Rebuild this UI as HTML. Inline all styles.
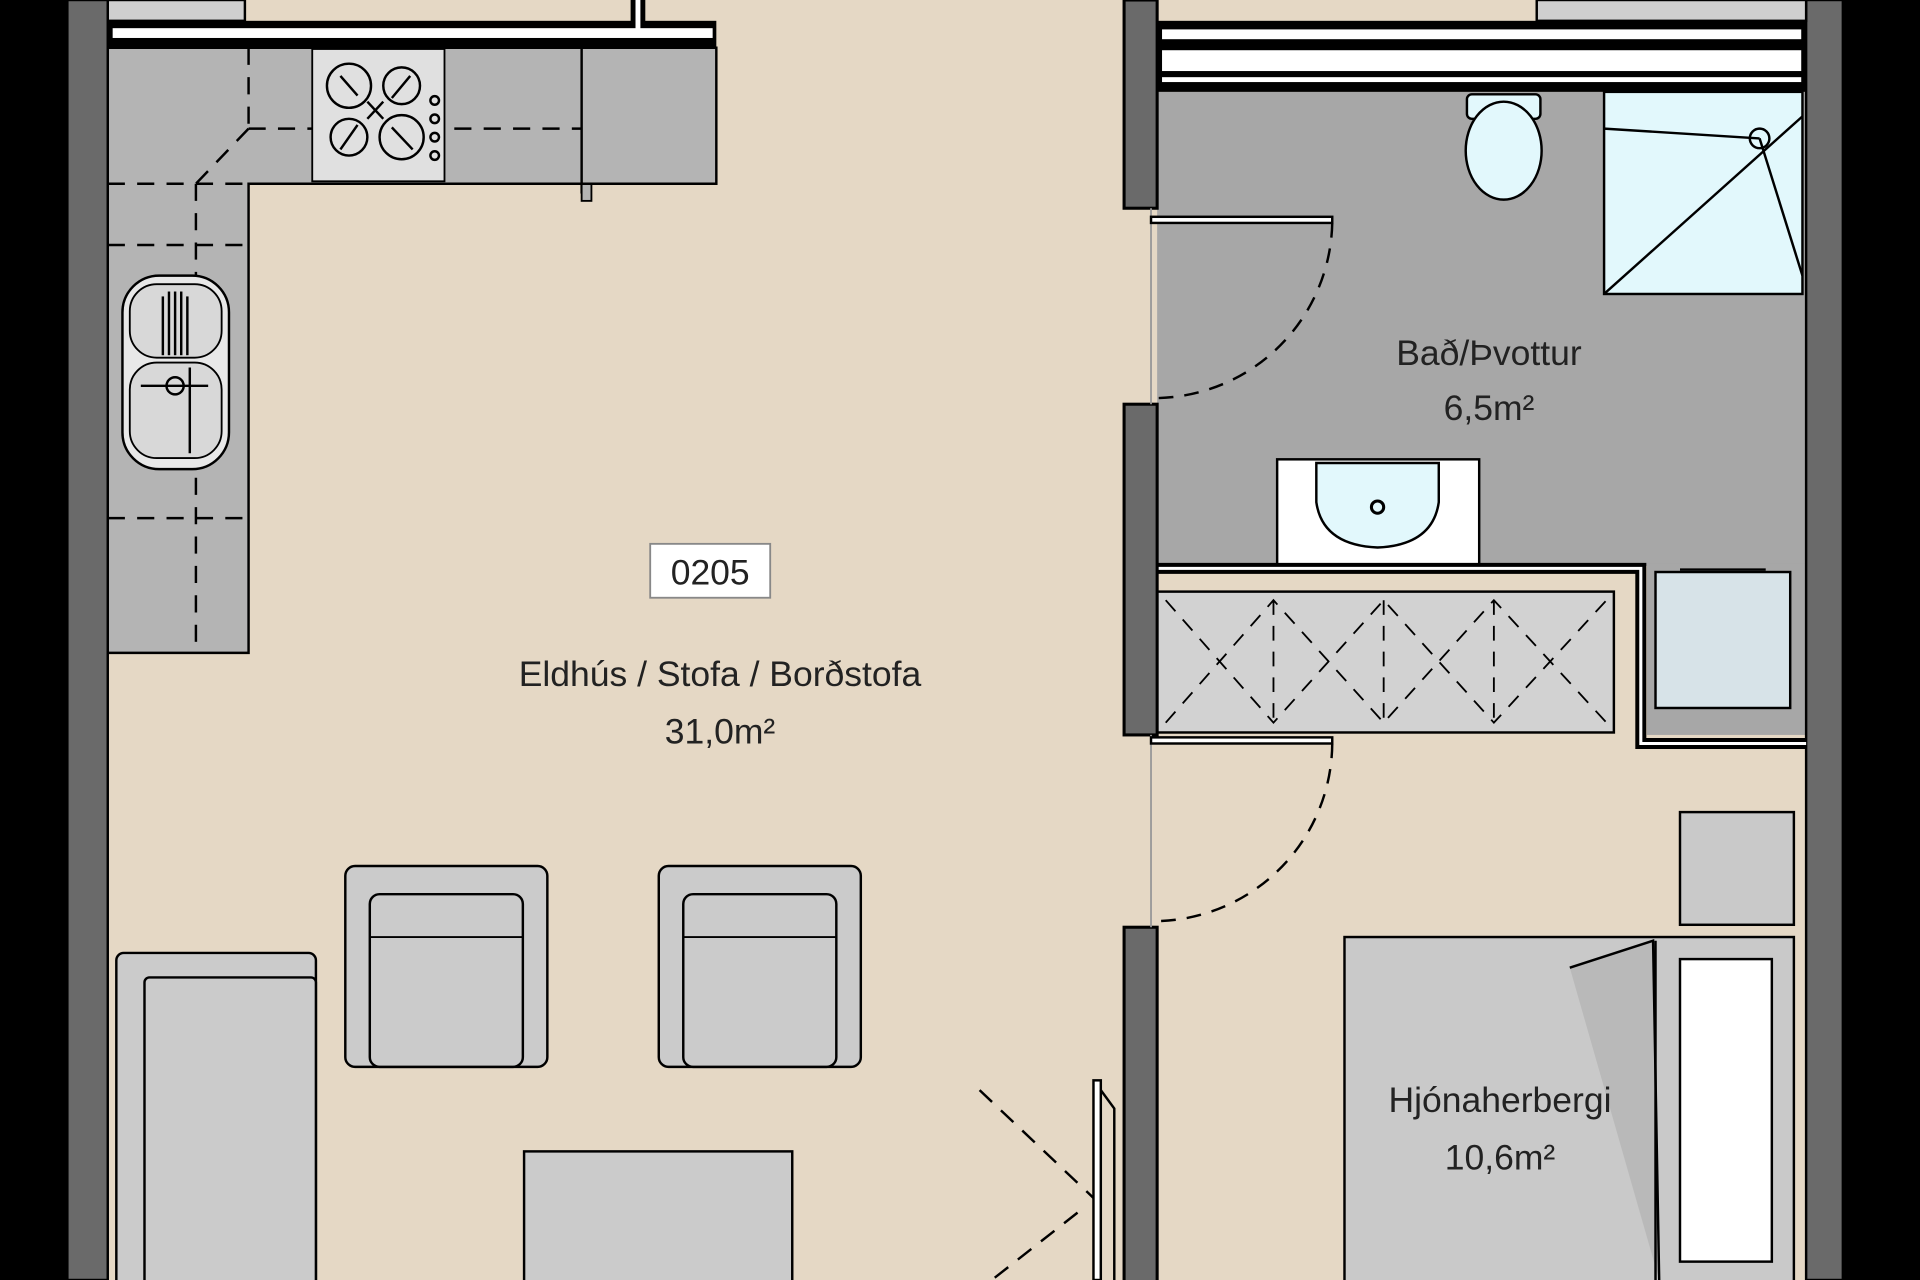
<!DOCTYPE html>
<html><head><meta charset="utf-8"><style>html,body{margin:0;padding:0;background:#000}svg{display:block}</style></head><body>
<svg width="1920" height="1280" viewBox="0 0 1568 1045" preserveAspectRatio="none" xmlns="http://www.w3.org/2000/svg" font-family="'Liberation Sans', sans-serif">
<rect width="1568" height="1045" fill="#000"/>
<rect x="88" y="0" width="1387" height="1045" fill="#e5d8c5"/>
<rect x="945" y="75" width="530" height="387" fill="#a7a7a7"/>
<rect x="1345" y="460" width="130" height="140" fill="#a7a7a7"/>
<rect x="88" y="0" width="112" height="17" fill="#cfcfcf" stroke="#000" stroke-width="2"/>
<rect x="88" y="17" width="497" height="22" fill="#000"/>
<rect x="92" y="23" width="490" height="8" fill="#fff"/>
<rect x="515" y="0" width="12" height="20" fill="#000"/>
<rect x="519" y="0" width="4" height="24" fill="#fff"/>
<path d="M88 39 H585 V150 H203 V533 H88 Z" fill="#b4b4b4" stroke="#000" stroke-width="2"/>
<line x1="475" y1="39" x2="475" y2="158" stroke="#000" stroke-width="2"/>
<rect x="475" y="150" width="8" height="14" fill="#b4b4b4" stroke="#000" stroke-width="1.5"/>
<g stroke="#000" stroke-width="2" stroke-dasharray="14 10" fill="none">
<line x1="88" y1="150" x2="585" y2="150"/>
<line x1="203" y1="105" x2="475" y2="105"/>
<line x1="203" y1="105" x2="160" y2="150"/>
<line x1="160" y1="150" x2="160" y2="533"/>
<line x1="203" y1="39" x2="203" y2="105"/>
<line x1="88" y1="200" x2="203" y2="200"/>
<line x1="88" y1="423" x2="203" y2="423"/>
</g>
<rect x="255" y="40" width="108" height="108" fill="#e0e0e0" stroke="#000" stroke-width="1.5"/>
<g fill="none" stroke="#000" stroke-width="2">
<circle cx="285" cy="70" r="18"/><circle cx="328" cy="70" r="15"/><circle cx="285" cy="112" r="15"/><circle cx="328" cy="112" r="18"/>
<line x1="278" y1="62" x2="292" y2="78"/><line x1="320" y1="80" x2="335" y2="62"/><line x1="278" y1="122" x2="292" y2="102"/><line x1="320" y1="104" x2="337" y2="122"/>
<line x1="300" y1="83" x2="313" y2="97"/><line x1="313" y1="83" x2="300" y2="97"/>
<circle cx="355" cy="82" r="3.5"/><circle cx="355" cy="97" r="3.5"/><circle cx="355" cy="112" r="3.5"/><circle cx="355" cy="127" r="3.5"/>
</g>
<rect x="100" y="225" width="87" height="158" rx="30" fill="#e8e8e8" stroke="#000" stroke-width="2"/>
<rect x="106" y="232" width="75" height="60" rx="22" fill="#d8d8d8" stroke="#000" stroke-width="1.5"/>
<rect x="106" y="296" width="75" height="78" rx="22" fill="#d8d8d8" stroke="#000" stroke-width="1.5"/>
<g stroke="#000" stroke-width="2"><line x1="133" y1="242" x2="133" y2="290"/><line x1="138" y1="238" x2="138" y2="290"/><line x1="143" y1="238" x2="143" y2="290"/><line x1="148" y1="238" x2="148" y2="290"/><line x1="153" y1="242" x2="153" y2="290"/><line x1="115" y1="315" x2="170" y2="315"/><line x1="155" y1="300" x2="155" y2="370"/></g>
<circle cx="143" cy="315" r="7" fill="none" stroke="#000" stroke-width="2"/>
<rect x="55" y="0" width="33" height="1045" fill="#6a6a6a" stroke="#000" stroke-width="2"/>
<rect x="1475" y="0" width="30" height="1045" fill="#6a6a6a" stroke="#000" stroke-width="2"/>
<rect x="1255" y="0" width="220" height="17" fill="#cfcfcf" stroke="#000" stroke-width="2"/>
<rect x="945" y="17" width="530" height="58" fill="#000"/>
<rect x="949" y="24" width="522" height="8" fill="#fff"/>
<rect x="949" y="41" width="522" height="17" fill="#fff"/>
<rect x="949" y="63" width="522" height="4" fill="#fff"/>
<rect x="1310" y="75" width="162" height="165" fill="#e2f8fc" stroke="#000" stroke-width="2"/>
<g stroke="#000" stroke-width="2" fill="none"><line x1="1310" y1="240" x2="1472" y2="95"/><line x1="1310" y1="105" x2="1437" y2="113"/><line x1="1437" y1="113" x2="1472" y2="225"/><circle cx="1437" cy="113" r="8"/></g>
<rect x="1198" y="77" width="60" height="20" rx="4" fill="#e2f8fc" stroke="#000" stroke-width="2"/>
<ellipse cx="1228" cy="123" rx="31" ry="40" fill="#e2f8fc" stroke="#000" stroke-width="2"/>
<rect x="1043" y="375" width="165" height="87" fill="#fff" stroke="#000" stroke-width="2"/>
<path d="M1075 378 H1175 V410 Q1170 445 1125 447 Q1080 445 1075 410 Z" fill="#e2f8fc" stroke="#000" stroke-width="2"/>
<circle cx="1125" cy="414" r="5" fill="none" stroke="#000" stroke-width="2.5"/>
<path d="M945 464 H1340 V607 H1475" fill="none" stroke="#000" stroke-width="9"/>
<path d="M945 464 H1340 V607 H1475" fill="none" stroke="#fff" stroke-width="2.5"/>
<rect x="945" y="483" width="373" height="115" fill="#d2d2d2" stroke="#000" stroke-width="2"/>
<g stroke="#000" stroke-width="1.5" stroke-dasharray="12 9" fill="none">
<path d="M952 490 L1040 590 L1130 490 L1220 590 L1312 490"/>
<path d="M952 590 L1040 490 L1130 590 L1220 490 L1312 590"/>
<line x1="1040" y1="490" x2="1040" y2="590"/><line x1="1130" y1="490" x2="1130" y2="590"/><line x1="1220" y1="490" x2="1220" y2="590"/>
</g>
<rect x="1352" y="467" width="110" height="111" fill="#d7e3e8" stroke="#000" stroke-width="2"/>
<line x1="1372" y1="465" x2="1442" y2="465" stroke="#000" stroke-width="2"/>
<rect x="918" y="0" width="27" height="170" fill="#6a6a6a" stroke="#000" stroke-width="2.5"/>
<rect x="918" y="330" width="27" height="270" fill="#6a6a6a" stroke="#000" stroke-width="2.5"/>
<rect x="918" y="757" width="27" height="290" fill="#6a6a6a" stroke="#000" stroke-width="2.5"/>
<line x1="940" y1="170" x2="940" y2="330" stroke="#999" stroke-width="1.5"/>
<line x1="940" y1="600" x2="940" y2="757" stroke="#999" stroke-width="1.5"/>
<g fill="none" stroke="#000" stroke-width="2">
<rect x="940" y="177" width="148" height="5" fill="#fff"/>
<path d="M1088 182 A146 146 0 0 1 945 325" stroke-dasharray="12 9"/>
<rect x="940" y="602" width="148" height="5" fill="#fff"/>
<path d="M1088 607 A146 146 0 0 1 945 752" stroke-dasharray="12 9"/>
<rect x="893" y="882" width="6" height="163" fill="#fff"/>
<path d="M899 890 L910 905 V1045"/>
<line x1="800" y1="890" x2="893" y2="978" stroke-dasharray="14 10"/>
<line x1="880" y1="990" x2="810" y2="1045" stroke-dasharray="14 10"/>
</g>
<rect x="1372" y="663" width="93" height="92" fill="#c9c9c9" stroke="#000" stroke-width="2"/>
<rect x="1098" y="765" width="367" height="290" fill="#c9c9c9" stroke="#000" stroke-width="2"/>
<path d="M1282 790 L1350 768 L1355 1045" fill="#b9b9b9" stroke="#000" stroke-width="2"/>
<line x1="1352" y1="768" x2="1352" y2="1045" stroke="#000" stroke-width="2"/>
<rect x="1372" y="783" width="75" height="247" fill="#fff" stroke="#000" stroke-width="2"/>
<g fill="#cbcbcb" stroke="#000" stroke-width="2">
<rect x="95" y="778" width="163" height="280" rx="6"/>
<rect x="118" y="798" width="140" height="260" rx="4"/>
<rect x="282" y="707" width="165" height="164" rx="8"/>
<rect x="302" y="730" width="125" height="141" rx="8"/>
<rect x="538" y="707" width="165" height="164" rx="8"/>
<rect x="558" y="730" width="125" height="141" rx="8"/>
<rect x="428" y="940" width="219" height="120"/>
</g>
<g stroke="#000" stroke-width="1.5"><line x1="302" y1="765" x2="427" y2="765"/><line x1="558" y1="765" x2="683" y2="765"/></g>
<rect x="531" y="444" width="98" height="44" fill="#fff" stroke="#888" stroke-width="1.5"/>
<g font-size="29" fill="#222" text-anchor="middle">
<text x="580" y="477">0205</text>
<text x="588" y="560">Eldhús / Stofa / Borðstofa</text>
<text x="588" y="607">31,0m²</text>
<text x="1216" y="298">Bað/Þvottur</text>
<text x="1216" y="343">6,5m²</text>
<text x="1225" y="908">Hjónaherbergi</text>
<text x="1225" y="955">10,6m²</text>
</g>
</svg>
</body></html>
